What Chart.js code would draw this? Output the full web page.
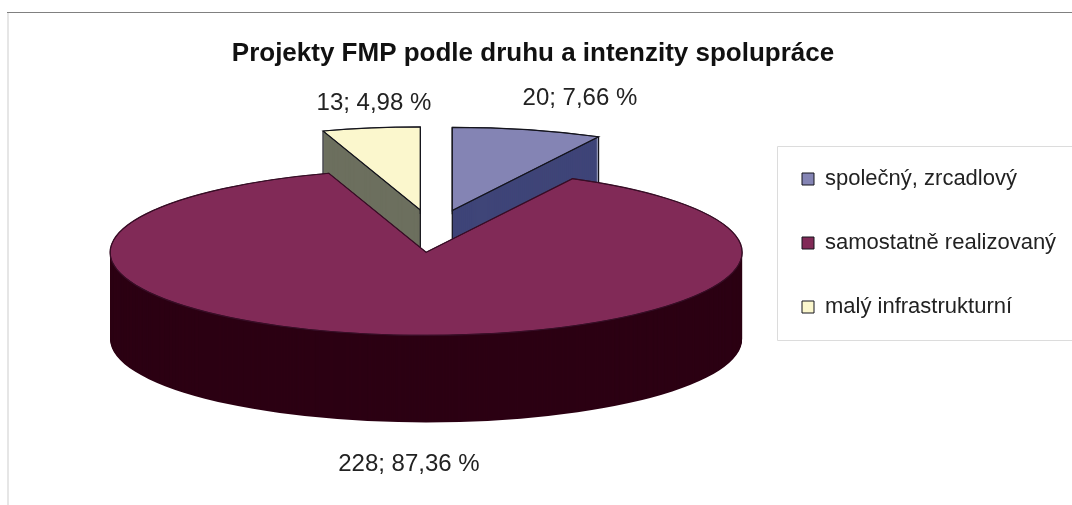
<!DOCTYPE html>
<html>
<head>
<meta charset="utf-8">
<style>
  html, body { margin: 0; padding: 0; background: #fff; }
  canvas { display: block; }
</style>
<script src="https://cdn.jsdelivr.net/npm/chart.js@4/dist/chart.umd.min.js"></script>
</head>
<body>
<canvas id="chart" width="1072" height="505"></canvas>
<script>
const categories = ["společný, zrcadlový", "samostatně realizovaný", "malý infrastrukturní"];
const values = [20, 228, 13];
const topColors = ["#8484b4", "#812a57", "#fbf7cd"];
const sideColors = ["#3f4578", "#2c0013", "#6c6f5e"];
const titleText = "Projekty FMP podle druhu a intenzity spolupráce";

// label anchors relative to the pie centre
const labelOffsets = [[147, -133], [-24, 233], [-59, -128]];

const squash = 0.263;   // tilt of the pie
const depth = 87;       // height of the side wall, screen px
const explode = 81;     // how far every slice moves out
const textFont = "Liberation Sans, Arial, sans-serif";

function tilt(ctx, cy, dy) {
  ctx.translate(0, cy + dy);
  ctx.scale(1, squash);
  ctx.translate(0, -cy);
}

function wedge(ctx, arc) {
  ctx.beginPath();
  ctx.moveTo(arc.x, arc.y);
  ctx.arc(arc.x, arc.y, arc.outerRadius, arc.startAngle, arc.endAngle);
  ctx.closePath();
}

const pie3d = {
  id: "pie3d",
  beforeDraw(chart) {
    const ctx = chart.ctx;
    ctx.save();
    ctx.fillStyle = "#fff";
    ctx.fillRect(0, 0, chart.width, chart.height);
    // outer frame
    ctx.fillStyle = "#808080";
    ctx.fillRect(7, 12, chart.width - 7, 1);
    ctx.fillStyle = "#e6e6e6";
    ctx.fillRect(7, 13, 2, chart.height - 13);
    // legend frame
    ctx.strokeStyle = "#dcdcdc";
    ctx.lineWidth = 1;
    ctx.beginPath();
    ctx.moveTo(chart.width, 146.5);
    ctx.lineTo(777.5, 146.5);
    ctx.lineTo(777.5, 340.5);
    ctx.lineTo(chart.width, 340.5);
    ctx.stroke();
    ctx.restore();
  },
  afterLayout(chart) {
    // legend and title sit where the original has them, not where the layout puts them
    const lg = chart.legend;
    const pad = lg.options.labels.padding;
    lg.left = 802 - pad;
    lg.top = 168 - pad;
    const tb = chart.titleBlock;
    const w = tb.right - tb.left;
    tb.left = 533 - w / 2;
    tb.right = tb.left + w;
    const h = tb.bottom - tb.top;
    tb.top = 38;
    tb.bottom = tb.top + h;
  },
  afterDatasetsUpdate(chart) {
    chart.getDatasetMeta(0).data.forEach(arc => {
      const mid = (arc.startAngle + arc.endAngle) / 2;
      arc.x += Math.cos(mid) * explode;
      arc.y += Math.sin(mid) * explode;
    });
  },
  beforeDatasetsDraw(chart) {
    const ctx = chart.ctx;
    const cy = (chart.chartArea.top + chart.chartArea.bottom) / 2;
    chart.getDatasetMeta(0).data.forEach((arc, i) => {
      ctx.fillStyle = sideColors[i];
      for (let dy = depth; dy >= 0; dy--) {
        ctx.save();
        tilt(ctx, cy, dy);
        wedge(ctx, arc);
        ctx.restore();
        ctx.fill();
      }
      if (i === 1) return; // the big slice hides its own wall edges
      const corners = [[arc.x, arc.y],
        [arc.x + Math.cos(arc.startAngle) * arc.outerRadius, arc.y + Math.sin(arc.startAngle) * arc.outerRadius],
        [arc.x + Math.cos(arc.endAngle) * arc.outerRadius, arc.y + Math.sin(arc.endAngle) * arc.outerRadius]];
      ctx.strokeStyle = "#14141c";
      ctx.lineWidth = 1.2;
      corners.forEach(c => {
        const sy = cy + (c[1] - cy) * squash;
        ctx.beginPath();
        ctx.moveTo(c[0], sy);
        ctx.lineTo(c[0], sy + depth);
        ctx.stroke();
      });
    });
    // the tops are drawn flattened
    ctx.save();
    tilt(ctx, cy, 0);
  },
  afterDatasetsDraw(chart) {
    const ctx = chart.ctx;
    ctx.restore();
    const cy = (chart.chartArea.top + chart.chartArea.bottom) / 2;
    const cx = (chart.chartArea.left + chart.chartArea.right) / 2;
    const arcs = chart.getDatasetMeta(0).data;
    arcs.forEach((arc, i) => {
      ctx.save();
      tilt(ctx, cy, 0);
      wedge(ctx, arc);
      ctx.restore();
      ctx.strokeStyle = i === 1 ? "#3a0c26" : "#14141c";
      ctx.lineWidth = 1.2;
      ctx.stroke();
    });
    // value labels
    const total = values.reduce((s, v) => s + v, 0);
    ctx.save();
    ctx.font = "24px " + textFont;
    ctx.fillStyle = "#222";
    ctx.textAlign = "center";
    ctx.textBaseline = "middle";
    arcs.forEach((arc, i) => {
      const pct = (values[i] / total * 100).toFixed(2).replace(".", ",");
      ctx.fillText(values[i] + "; " + pct + " %", cx + labelOffsets[i][0], cy + labelOffsets[i][1]);
    });
    ctx.restore();
  }
};

new Chart(document.getElementById("chart"), {
  type: "pie",
  data: {
    labels: categories,
    datasets: [{
      data: values,
      backgroundColor: topColors,
      borderColor: "#14141c",
      borderWidth: 1,
      clip: false
    }]
  },
  plugins: [pie3d],
  options: {
    responsive: false,
    animation: false,
    radius: 316,
    layout: { padding: { left: 100, right: 0, top: 27, bottom: 101 } },
    plugins: {
      tooltip: { enabled: false },
      title: {
        display: true,
        text: titleText,
        color: "#111",
        font: { family: textFont, size: 26, weight: "bold" },
        padding: { top: 0, bottom: 0 }
      },
      legend: {
        position: "right",
        align: "start",
        labels: {
          color: "#222",
          font: { family: textFont, size: 22 },
          boxWidth: 12,
          boxHeight: 12,
          padding: 42
        }
      }
    }
  }
});
</script>
</body>
</html>
